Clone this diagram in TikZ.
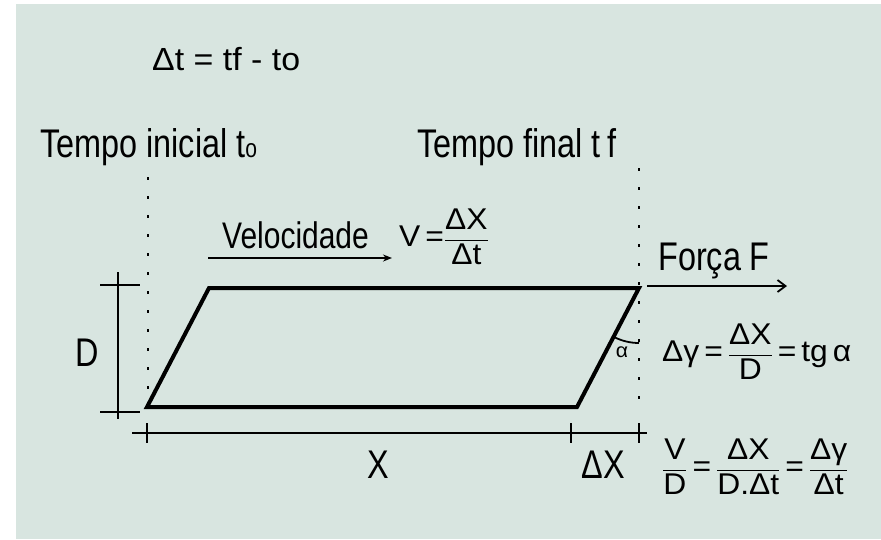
\documentclass[tikz,border=0pt]{standalone}
\usepackage{amsmath}
\usepackage{fontspec}
\setmainfont[FakeStretch=0.81]{Liberation Sans}
\newfontfamily\eqfont[FakeStretch=1.06]{Liberation Sans}
\usepackage{tikz}
\usetikzlibrary{arrows.meta}
\definecolor{bgcol}{RGB}{216,229,224}
\newcommand{\fr}[2]{\dfrac{\text{#1}}{\text{#2}}}
\newcommand{\sub}[1]{{\fontsize{26}{28}\selectfont #1}}
\newcommand{\eq}{\text{\,=\,}}
\tikzset{
	lbl/.style={font=\fontsize{40}{44}\selectfont, inner sep=0pt},
	eqn/.style={font=\eqfont\fontsize{30}{33}\selectfont, inner sep=0pt},
	mydots/.style={line width=2.6pt, dash pattern=on 2.6pt off 16.4pt},
	thin line/.style={line width=1.8pt},
	bold line/.style={line width=4pt, line join=miter}
}

\begin{document}
\begin{tikzpicture}[x=1pt, y=-1pt]
	\useasboundingbox (0, 0) rectangle (881, 539);
	\fill[bgcol] (16, 4) rectangle (881, 539);
	\coordinate (A) at (147, 407);
	\coordinate (B) at (209, 288);
	\coordinate (C) at (639, 288);
	\coordinate (E) at (577, 407);
	\draw[mydots] (148, 177) -- (148, 396);
	\draw[mydots] (639, 168) -- (639, 405);
	\draw[bold line] (A) -- (B) -- (C) -- (E) -- cycle;
	\node[eqn, anchor=base west, font=\eqfont\fontsize{32}{35}\selectfont] (dt) at (152, 70) {Δt = tf - to};
	\node[lbl, anchor=base west] (ti) at (40, 157) {Tempo inicial t\sub{o}};
	\node[lbl, anchor=base west] (tf) at (417, 157) {Tempo final t\,f};
	\node[lbl, anchor=base west, font=\fontsize{37}{40}\selectfont] (vel) at (222, 248) {Velocidade};
	\node[eqn, anchor=west] (veq) at (399, 237) {$\text{V}\text{\,=}\fr{ΔX}{Δt}$};
	\node[lbl, anchor=base west] (forca) at (658, 270) {Força F};
	\node[lbl] (d) at (87, 353) {D};
	\node[lbl] (x) at (378, 465) {X};
	\node[lbl] (dx) at (603, 465) {ΔX};
	\node[eqn, font=\eqfont\fontsize{20}{22}\selectfont] (alpha) at (622, 352) {α};
	\node[eqn, anchor=west] (geq) at (662, 352) {$\text{Δγ}\eq\fr{ΔX}{D}\eq\text{tg\,α}$};
	\node[eqn, anchor=west] (veq2) at (662, 467) {$\fr{V}{D}\eq\fr{ΔX}{D.Δt}\eq\fr{Δγ}{Δt}$};
	\coordinate (v1) at (208, 258);
	\coordinate (v2) at (392, 258);
	\draw[thin line, -{Stealth[length=9pt, width=7pt]}] (v1) -- (v2);
	\coordinate (f1) at (647, 286);
	\coordinate (f2) at (787, 286);
	\draw[thin line, -{Straight Barb[length=8pt, width=12pt]}] (f1) -- (f2);
	\draw[thin line] (118, 272) -- (118, 419);
	\draw[thin line] (100, 285) -- (140, 285);
	\draw[thin line] (100, 412) -- (140, 412);
	\draw[thin line] (132, 433) -- (647, 433);
	\foreach \xx in {147, 571, 639}
		\draw[thin line] (\xx, 423) -- (\xx, 443);
	\draw[thin line] (C) ++(117.5:55) arc (117.5:90:55);
\end{tikzpicture}
\end{document}
